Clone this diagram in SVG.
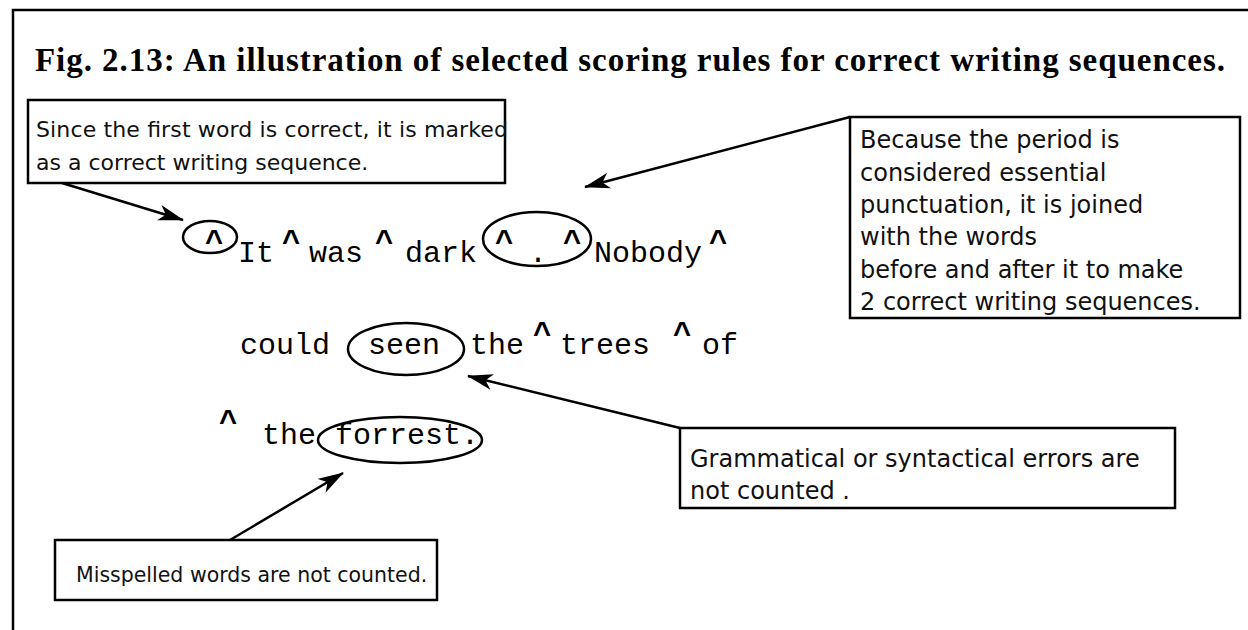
<svg xmlns="http://www.w3.org/2000/svg" width="1248" height="630" viewBox="0 0 1248 630">
  <style>
    .frame { fill: none; stroke: #000; stroke-width: 2.5; }
    .box { fill: #fff; stroke: #000; stroke-width: 2.5; }
    .note { font-family: "DejaVu Sans", Verdana, sans-serif; fill: #111; }
    .n1 { font-size: 22px; }
    .n2 { font-size: 24px; }
    .n3 { font-size: 24px; }
    .n4 { font-size: 20.5px; }
    .title { font-family: "Liberation Serif", "Times New Roman", serif; font-weight: bold; font-size: 33px; fill: #000; }
    .word { font-family: "Liberation Mono", "Courier New", monospace; font-size: 30px; fill: #000; }
    .caret { font-family: "Liberation Sans", Arial, sans-serif; font-weight: bold; font-size: 31px; fill: #000; text-anchor: middle; }
    .ring { fill: none; stroke: #000; stroke-width: 2.5; }
    .link { fill: none; stroke: #000; stroke-width: 2.5; }
  </style>
  <defs>
    <marker id="head" viewBox="0 0 26 16" refX="25" refY="8" markerWidth="26" markerHeight="16" markerUnits="userSpaceOnUse" orient="auto">
      <path d="M0,0 L26,8 L0,16 L7,8 Z" fill="#000"/>
    </marker>
  </defs>

  <rect width="1248" height="630" fill="#fff"/>
  <!-- page frame (left and top edges only) -->
  <path class="frame" d="M13,632 V10 H1250"/>

  <text class="title" x="35" y="71" textLength="1190" lengthAdjust="spacing">Fig. 2.13:  An illustration of selected scoring rules for correct writing sequences.</text>

  <!-- sample sentence, carets mark the scored junctions -->
  <g id="sentence">
    <g id="line1">
      <ellipse class="ring" cx="210" cy="237" rx="27" ry="16"/>
      <text class="caret" x="214" y="252">^</text>
      <text class="word" x="238" y="262">It</text>
      <text class="caret" x="291" y="252">^</text>
      <text class="word" x="309" y="262">was</text>
      <text class="caret" x="384" y="252">^</text>
      <text class="word" x="405" y="262">dark</text>
      <ellipse class="ring" cx="537" cy="239" rx="54" ry="27"/>
      <text class="caret" x="504" y="252">^</text>
      <text class="word" x="529" y="262">.</text>
      <text class="caret" x="572" y="252">^</text>
      <text class="word" x="594" y="262">Nobody</text>
      <text class="caret" x="718" y="252">^</text>
    </g>
    <g id="line2">
      <text class="word" x="240" y="354">could</text>
      <ellipse class="ring" cx="406" cy="349" rx="58" ry="26"/>
      <text class="word" x="368" y="354">seen</text>
      <text class="word" x="470" y="354">the</text>
      <text class="caret" x="542" y="344">^</text>
      <text class="word" x="560" y="354">trees</text>
      <text class="caret" x="682" y="344">^</text>
      <text class="word" x="702" y="354">of</text>
    </g>
    <g id="line3">
      <text class="caret" x="228" y="432">^</text>
      <text class="word" x="262" y="444">the</text>
      <ellipse class="ring" cx="400" cy="440" rx="82" ry="23"/>
      <text class="word" x="335" y="444">forrest.</text>
    </g>
  </g>

  <!-- connectors -->
  <g id="connectors">
    <line class="link" x1="62" y1="183" x2="183" y2="220" marker-end="url(#head)"/>
    <line class="link" x1="850" y1="117" x2="585" y2="187" marker-end="url(#head)"/>
    <line class="link" x1="680" y1="428" x2="468" y2="376" marker-end="url(#head)"/>
    <line class="link" x1="230" y1="540" x2="343" y2="473" marker-end="url(#head)"/>
  </g>

  <!-- callout boxes -->
  <g id="note-first-word">
    <rect class="box" x="28" y="100" width="477" height="83"/>
    <text class="note n1" x="36" y="137" textLength="472" lengthAdjust="spacing">Since the first word is correct, it is marked</text>
    <text class="note n1" x="36" y="170">as a correct writing sequence.</text>
  </g>
  <g id="note-period">
    <rect class="box" x="850" y="117" width="390" height="201"/>
    <text class="note n2" x="860" y="148">Because the period is</text>
    <text class="note n2" x="860" y="181">considered essential</text>
    <text class="note n2" x="860" y="213">punctuation, it is joined</text>
    <text class="note n2" x="860" y="245">with the words</text>
    <text class="note n2" x="860" y="278">before and after it to make</text>
    <text class="note n2" x="860" y="310">2 correct writing sequences.</text>
  </g>
  <g id="note-grammar">
    <rect class="box" x="680" y="428" width="495" height="80"/>
    <text class="note n3" x="690" y="467">Grammatical or syntactical errors are</text>
    <text class="note n3" x="690" y="499">not counted .</text>
  </g>
  <g id="note-spelling">
    <rect class="box" x="55" y="540" width="382" height="60"/>
    <text class="note n4" x="76" y="582">Misspelled words are not counted.</text>
  </g>
</svg>
